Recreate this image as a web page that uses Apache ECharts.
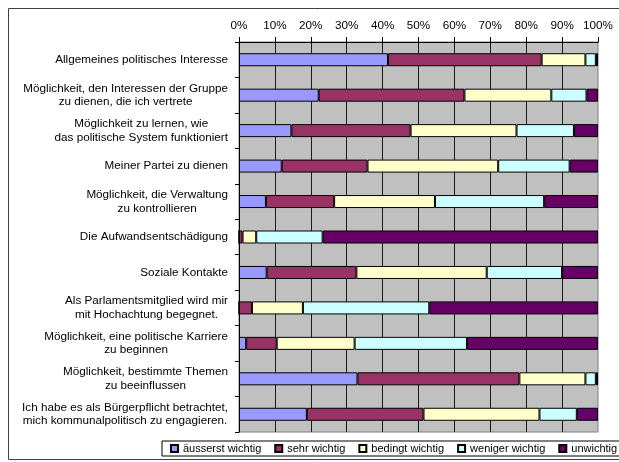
<!DOCTYPE html>
<html>
<head>
<meta charset="utf-8">
<script src="https://cdn.jsdelivr.net/npm/echarts@6/dist/echarts.min.js"></script>
<style>
html,body{margin:0;padding:0;background:#fff;}
#chart{width:619px;height:462px;}
</style>
</head>
<body>
<div id="chart"></div>
<script>
const categories = [
  "Allgemeines politisches Interesse",
  "Möglichkeit, den Interessen der Gruppe\nzu dienen, die ich vertrete",
  "Möglichkeit zu lernen, wie\ndas politische System funktioniert",
  "Meiner Partei zu dienen",
  "Möglichkeit, die Verwaltung\nzu kontrollieren",
  "Die Aufwandsentschädigung",
  "Soziale Kontakte",
  "Als Parlamentsmitglied wird mir\nmit Hochachtung begegnet.",
  "Möglichkeit, eine politische Karriere\nzu beginnen",
  "Möglichkeit, bestimmte Themen\nzu beeinflussen",
  "Ich habe es als Bürgerpflicht betrachtet,\nmich kommunalpolitisch zu engagieren."
];
const seriesNames = ["äusserst wichtig", "sehr wichtig", "bedingt wichtig", "weniger wichtig", "unwichtig"];
const ausserstWichtig = [41.5, 22.2, 14.6, 11.9, 7.5, 0.0, 7.7, 0.0, 2.0, 33.0, 18.9];
const sehrWichtig     = [42.8, 40.6, 33.2, 23.9, 19.0, 1.0, 25.0, 3.6, 8.5, 45.1, 32.5];
const bedingtWichtig  = [12.2, 24.2, 29.5, 36.4, 28.1, 3.8, 36.3, 14.2, 21.7, 18.4, 32.3];
const wenigerWichtig  = [2.9, 9.8, 16.0, 19.9, 30.4, 18.5, 21.0, 35.2, 31.3, 2.9, 10.4];
const unwichtig       = [0.6, 3.2, 6.7, 7.9, 15.0, 76.7, 10.0, 47.0, 36.5, 0.6, 5.9];
const xTicks = [0, 10, 20, 30, 40, 50, 60, 70, 80, 90, 100];

const seriesData = [ausserstWichtig, sehrWichtig, bedingtWichtig, wenigerWichtig, unwichtig];
const colors = ["#9999FF", "#993366", "#FFFFCC", "#CCFFFF", "#660066"];
const FONT = "Liberation Sans, Arial, sans-serif";
const FS = 11.7;

const chart = echarts.init(document.getElementById('chart'), null, {renderer: 'canvas'});
chart.setOption({
  animation: false,
  backgroundColor: '#fff',
  color: colors,
  textStyle: {fontFamily: FONT},
  graphic: [{
    type: 'rect', silent: true, z: -10,
    shape: {x: 8.5, y: 8.5, width: 640, height: 451},
    style: {fill: 'none', stroke: '#404040', lineWidth: 1}
  }],
  grid: {
    left: 239, right: 21, top: 42, bottom: 30,
    show: true, backgroundColor: '#C0C0C0', borderColor: '#808080', borderWidth: 1
  },
  legend: {
    data: seriesNames,
    left: 162, top: 441, width: 480,
    padding: [2, 4, 2, 8],
    borderColor: '#000', borderWidth: 1,
    itemWidth: 7, itemHeight: 7, itemGap: 13,
    icon: 'rect',
    textStyle: {fontSize: 11, color: '#000', fontFamily: FONT}
  },
  xAxis: {
    type: 'value', position: 'top', min: xTicks[0], max: xTicks[xTicks.length - 1],
    interval: xTicks[1] - xTicks[0],
    axisLine: {show: true, lineStyle: {color: '#000', width: 1}},
    axisTick: {show: true, length: 5, lineStyle: {color: '#000'}},
    axisLabel: {formatter: '{value}%', fontSize: FS, color: '#000', margin: 10, fontFamily: FONT},
    splitLine: {show: true, showMinLine: false, showMaxLine: false, lineStyle: {color: '#1a1a1a', width: 1}}
  },
  yAxis: {
    type: 'category', data: categories, inverse: true,
    axisLine: {show: true, lineStyle: {color: '#000', width: 1}},
    axisTick: {show: true, length: 4, lineStyle: {color: '#000'}},
    axisLabel: {
      margin: 11, fontSize: FS, color: '#000', fontFamily: FONT, align: 'right',
      formatter: v => v.split('\n').map(l => '{c|' + l + '}').join('\n'),
      rich: {c: {align: 'center', fontSize: FS, lineHeight: 13.5, color: '#000', fontFamily: FONT}}
    },
    splitLine: {show: false}
  },
  series: seriesNames.map((n, i) => ({
    name: n, type: 'bar', stack: 'total', barWidth: 13,
    data: seriesData[i],
    itemStyle: {color: colors[i], borderColor: '#000', borderWidth: 1}
  }))
});
</script>
</body>
</html>
